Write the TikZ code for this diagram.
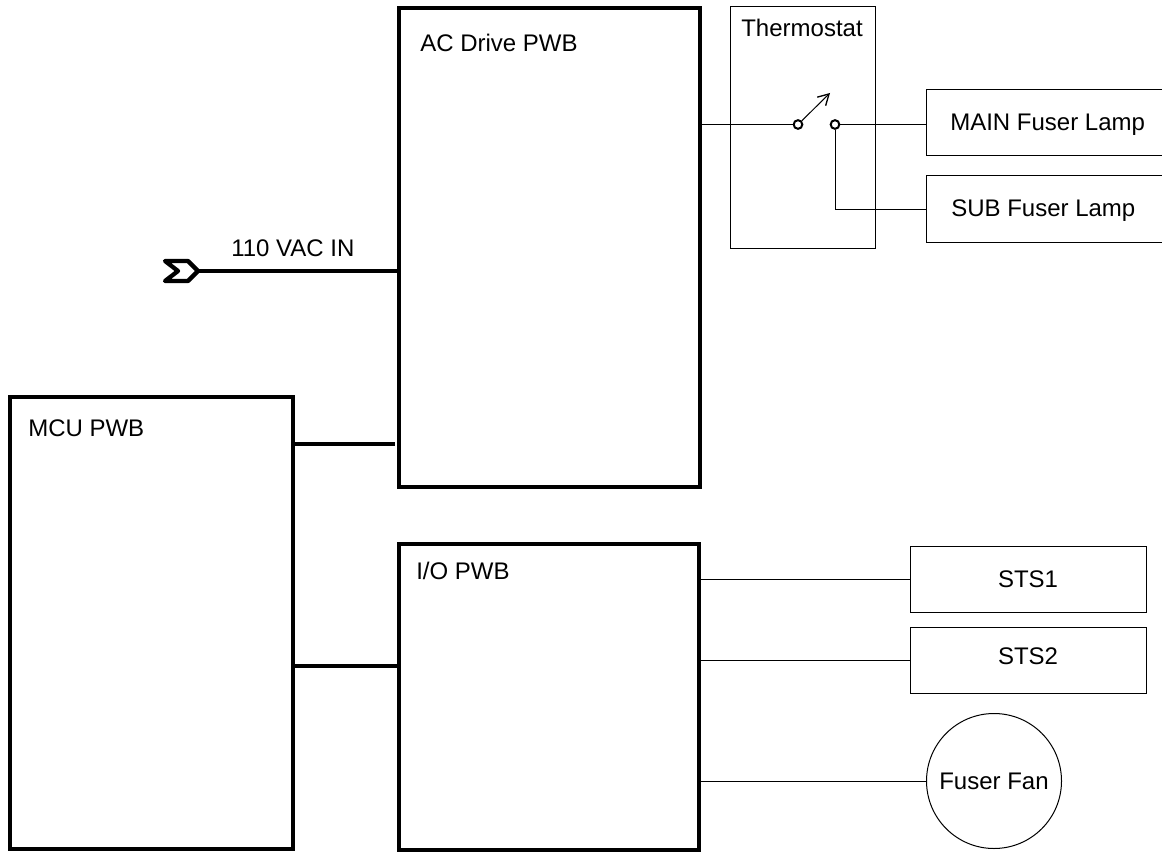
\documentclass[tikz,border=0pt]{standalone}
\usepackage{fontspec}
\setmainfont{Liberation Sans}
\usetikzlibrary{arrows.meta}
\tikzset{
  pwb/.style={draw,line width=3.4pt,rectangle,inner sep=0pt},
  unitbox/.style={draw,line width=0.75pt,rectangle,inner sep=0pt},
  txt/.style={anchor=base west,inner sep=0pt},
  busline/.style={line width=3.6pt},
  wire/.style={line width=0.75pt},
  contact/.style={draw,circle,line width=1.5pt,minimum size=6.5pt,inner sep=0pt},
}
\begin{document}
\begin{tikzpicture}[x=0.75pt,y=-0.75pt,font=\fontsize{18pt}{21pt}\selectfont]
  \useasboundingbox (0,0) rectangle (1162,852);
  \clip (0,0) rectangle (1162,852);
  \node[pwb,minimum width=225.75pt,minimum height=359.25pt] (acdrive) at (549.5,247.5) {};
  \node[pwb,minimum width=212.25pt,minimum height=339pt] (mcu) at (151.5,623) {};
  \node[pwb,minimum width=225pt,minimum height=229.5pt] (io) at (549,697) {};
  \node[unitbox,minimum width=108.75pt,minimum height=180.75pt] (thermostat) at (802.5,127.5) {};
  \node[unitbox,minimum width=183pt,minimum height=49.5pt] (mainlamp) at (1048,122.5) {};
  \node[unitbox,minimum width=183pt,minimum height=49.5pt] (sublamp) at (1048,209) {};
  \node[unitbox,minimum width=177pt,minimum height=49.5pt] (sts1) at (1028,579) {STS1};
  \node[unitbox,minimum width=177pt,minimum height=49.5pt] (sts2) at (1028,660) {};
  \node[unitbox,circle,minimum size=101.25pt] (fan) at (994,781) {Fuser Fan};
  \node[txt] (acdrivetxt) at (420,52) {AC Drive PWB};
  \node[txt] (mcutxt) at (28,436) {MCU PWB};
  \node[txt] (iotxt) at (416,579) {I/O PWB};
  \node[anchor=base,inner sep=0pt] (thermotxt) at (802,37) {Thermostat};
  \node[txt] (maintxt) at (950,131) {MAIN Fuser Lamp};
  \node[txt] (subtxt) at (951,217) {SUB Fuser Lamp};
  \node[anchor=base,inner sep=0pt] (sts2txt) at (1028,664) {STS2};
  \node[txt] (vactxt) at (231,256) {110 VAC IN};
  \node[contact] (swa) at (798,124.5) {};
  \node[contact] (swb) at (835,124.5) {};
  \coordinate (swtip) at (830,93);
  \coordinate (acin) at (198,271);
  \coordinate (subcorner) at (835,209.5);
  \draw[wire] (acdrive.east |- swa) -- (swa);
  \draw[wire,-{Straight Barb[length=8pt,width=9pt,line width=1pt]}] (swa) -- (swtip);
  \draw[wire] (swb) -- (mainlamp.west |- swb);
  \draw[wire] (swb) -- (subcorner) -- (sublamp.west |- subcorner);
  \draw[line width=3.2pt,line join=round] (165,261) -- (188,261) -- (acin) -- (188,281) -- (165,281) -- (178,271) -- cycle;
  \draw[busline] (acin) -- (acdrive.west |- acin);
  \coordinate (mcuac) at (395,444);
  \coordinate (mcuio) at (399,666);
  \draw[busline] (mcu.east |- mcuac) -- (mcuac);
  \draw[busline] (mcu.east |- mcuio) -- (io.west |- mcuio);
  \coordinate (iosts1) at (699,579);
  \coordinate (iosts2) at (699,660);
  \draw[wire] (iosts1) -- (sts1.west |- iosts1);
  \draw[wire] (iosts2) -- (sts2.west |- iosts2);
  \draw[wire] (io.east |- fan) -- (fan);
\end{tikzpicture}
\end{document}
